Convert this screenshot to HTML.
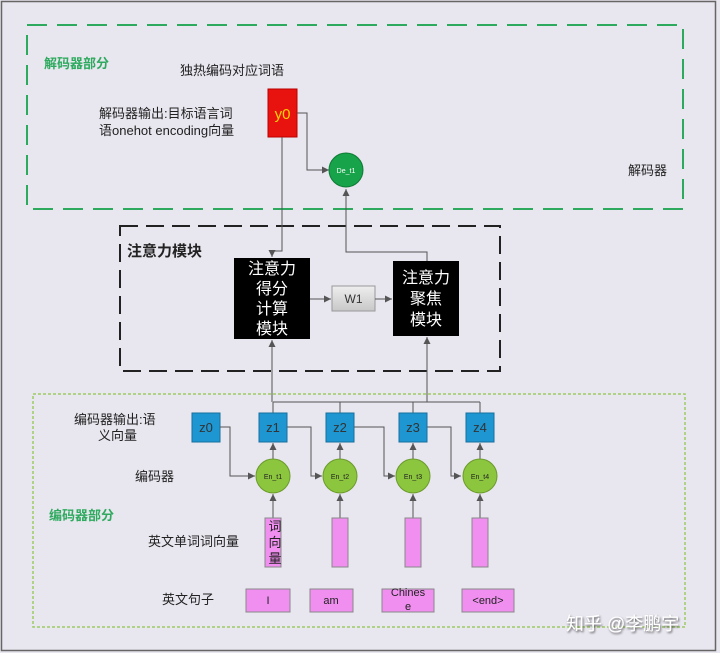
<!DOCTYPE html>
<html><head><meta charset="utf-8"><style>
html,body{margin:0;padding:0;background:#e8e6ee;}
svg{display:block;}
text{font-family:"Liberation Sans","Noto Sans CJK SC",sans-serif;}
</style></head><body>
<svg width="720" height="653" viewBox="0 0 720 653" xmlns="http://www.w3.org/2000/svg">
<defs>
<marker id="a" markerWidth="8" markerHeight="8" refX="7" refY="4" orient="auto" markerUnits="userSpaceOnUse"><path d="M0,0.5 L7,4 L0,7.5 Z" fill="#555"/></marker>
<linearGradient id="g" x1="0" y1="0" x2="0" y2="1"><stop offset="0" stop-color="#eee"/><stop offset="1" stop-color="#c8c8c8"/></linearGradient>
<filter id="sh" x="-10%" y="-30%" width="130%" height="160%"><feDropShadow dx="1" dy="1.5" stdDeviation="1" flood-color="#000" flood-opacity="0.6"/></filter>
</defs>
<rect x="0" y="0" width="720" height="653" fill="#e8e6ee"/>
<rect x="1.5" y="1.5" width="714" height="649" fill="none" stroke="#666" stroke-width="1.5"/>
<rect x="27" y="25" width="656" height="184" fill="none" stroke="#2eaa5f" stroke-width="2" stroke-dasharray="20,10"/>
<text x="44" y="68" font-size="13" font-weight="bold" fill="#2eaa5f">解码器部分</text>
<text x="180" y="75" font-size="13" fill="#222">独热编码对应词语</text>
<text x="99" y="118" font-size="13" fill="#222">解码器输出:目标语言词</text>
<text x="99" y="135" font-size="13" fill="#222">语onehot encoding向量</text>
<rect x="268" y="89" width="29" height="48" fill="#e8120e" stroke="#b00" stroke-width="1"/>
<text x="282.5" y="119" font-size="15" fill="#ffd400" text-anchor="middle">y0</text>
<polyline points="297,113 307,113 307,170 329,170" fill="none" stroke="#555" stroke-width="1" marker-end="url(#a)"/>
<circle cx="346" cy="170" r="17" fill="#16a34a" stroke="#0e7a35" stroke-width="1"/>
<text x="346" y="173" font-size="7" fill="#fff" text-anchor="middle">De_t1</text>
<text x="628" y="175" font-size="13" fill="#222">解码器</text>
<rect x="120" y="226" width="380" height="145" fill="none" stroke="#222" stroke-width="2" stroke-dasharray="18,8"/>
<text x="127" y="256" font-size="15" font-weight="bold" fill="#222">注意力模块</text>
<polyline points="282,137 282,251 272,251 272,257" fill="none" stroke="#555" stroke-width="1" marker-end="url(#a)"/>
<polyline points="427,261 427,252 346,252 346,189" fill="none" stroke="#555" stroke-width="1" marker-end="url(#a)"/>
<rect x="234" y="258" width="76" height="81" fill="#000"/>
<g font-size="16" fill="#fff" text-anchor="middle">
<text x="272" y="274">注意力</text><text x="272" y="294">得分</text><text x="272" y="314">计算</text><text x="272" y="334">模块</text>
</g>
<rect x="332" y="286" width="43" height="25" fill="url(#g)" stroke="#999"/>
<text x="353.5" y="303" font-size="12" fill="#333" text-anchor="middle">W1</text>
<line x1="310" y1="299" x2="331" y2="299" stroke="#555" marker-end="url(#a)"/>
<line x1="375" y1="299" x2="392" y2="299" stroke="#555" marker-end="url(#a)"/>
<rect x="393" y="261" width="66" height="75" fill="#000"/>
<g font-size="16" fill="#fff" text-anchor="middle">
<text x="426" y="283">注意力</text><text x="426" y="304">聚焦</text><text x="426" y="325">模块</text>
</g>
<rect x="33" y="394" width="652" height="233" fill="none" stroke="#9ccc65" stroke-width="1.5" stroke-dasharray="3,2"/>
<line x1="272" y1="402" x2="272" y2="340" stroke="#555" marker-end="url(#a)"/>
<line x1="427" y1="402" x2="427" y2="337" stroke="#555" marker-end="url(#a)"/>
<polyline points="273,402 480,402" fill="none" stroke="#555"/>
<g stroke="#555"><line x1="273" y1="402" x2="273" y2="413"/><line x1="340" y1="402" x2="340" y2="413"/><line x1="413" y1="402" x2="413" y2="413"/><line x1="480" y1="402" x2="480" y2="413"/></g>
<text x="74" y="424" font-size="13" fill="#222">编码器输出:语</text>
<text x="98" y="440" font-size="13" fill="#222">义向量</text>
<text x="135" y="481" font-size="13" fill="#222">编码器</text>
<text x="49" y="520" font-size="13" font-weight="bold" fill="#2eaa5f">编码器部分</text>
<text x="148" y="546" font-size="13" fill="#222">英文单词词向量</text>
<text x="162" y="604" font-size="13" fill="#222">英文句子</text>
<g fill="#1e96d1" stroke="#1670a0">
<rect x="192" y="413" width="28" height="29"/><rect x="259" y="413" width="28" height="29"/><rect x="326" y="413" width="28" height="29"/><rect x="399" y="413" width="28" height="29"/><rect x="466" y="413" width="28" height="29"/>
</g>
<g font-size="13" fill="#333" text-anchor="middle">
<text x="206" y="432">z0</text><text x="273" y="432">z1</text><text x="340" y="432">z2</text><text x="413" y="432">z3</text><text x="480" y="432">z4</text>
</g>
<g fill="none" stroke="#555" marker-end="url(#a)">
<polyline points="220,427 230,427 230,476 255,476"/>
<polyline points="287,427 311,427 311,476 322,476"/>
<polyline points="354,427 384,427 384,476 395,476"/>
<polyline points="427,427 451,427 451,476 461,476"/>
<line x1="273" y1="459" x2="273" y2="443"/><line x1="340" y1="459" x2="340" y2="443"/><line x1="413" y1="459" x2="413" y2="443"/><line x1="480" y1="459" x2="480" y2="443"/>
<line x1="273" y1="518" x2="273" y2="494"/><line x1="340" y1="518" x2="340" y2="494"/><line x1="413" y1="518" x2="413" y2="494"/><line x1="480" y1="518" x2="480" y2="494"/>
</g>
<g fill="#8cc63f" stroke="#6a9a2a">
<circle cx="273" cy="476" r="17"/><circle cx="340" cy="476" r="17"/><circle cx="413" cy="476" r="17"/><circle cx="480" cy="476" r="17"/>
</g>
<g font-size="7" fill="#222" text-anchor="middle">
<text x="273" y="479">En_t1</text><text x="340" y="479">En_t2</text><text x="413" y="479">En_t3</text><text x="480" y="479">En_t4</text>
</g>
<g fill="#f08ff0" stroke="#888">
<rect x="265" y="518" width="16" height="49"/><rect x="332" y="518" width="16" height="49"/><rect x="405" y="518" width="16" height="49"/><rect x="472" y="518" width="16" height="49"/>
</g>
<g font-size="13" fill="#222" text-anchor="middle"><text x="275" y="531">词</text><text x="275" y="547">向</text><text x="275" y="563">量</text></g>
<g fill="#f08ff0" stroke="#888">
<rect x="246" y="589" width="44" height="23"/><rect x="310" y="589" width="43" height="23"/><rect x="382" y="589" width="52" height="23"/><rect x="462" y="589" width="52" height="23"/>
</g>
<g font-size="11" fill="#222" text-anchor="middle" font-family="Liberation Mono,monospace">
<text x="268" y="604">I</text><text x="331" y="604">am</text><text x="408" y="596">Chines</text><text x="408" y="610">e</text><text x="488" y="604">&lt;end&gt;</text>
</g>
<text x="566" y="630" font-size="18" fill="#fff" filter="url(#sh)">知乎 @李鹏宇</text>
</svg>
</body></html>
